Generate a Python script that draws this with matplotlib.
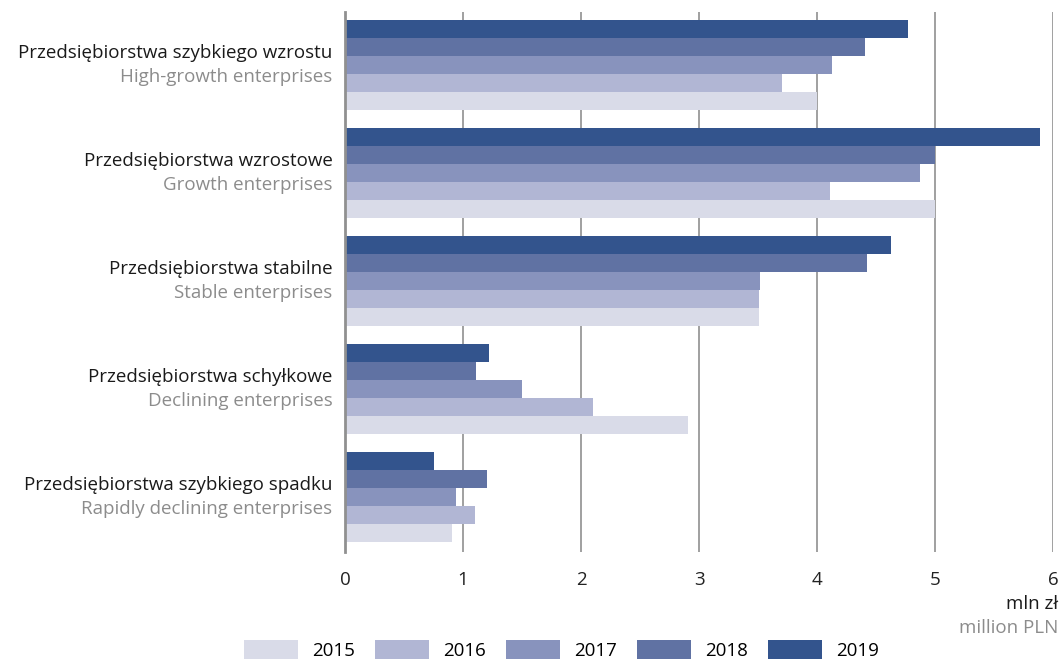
import numpy as np
import matplotlib.pyplot as plt
from matplotlib.patches import Patch

plt.rcParams['font.family'] = ['Open Sans', 'DejaVu Sans']

# dane (mln zł)
kategorie_pl = ['Przedsiębiorstwa szybkiego wzrostu', 'Przedsiębiorstwa wzrostowe',
                'Przedsiębiorstwa stabilne', 'Przedsiębiorstwa schyłkowe',
                'Przedsiębiorstwa szybkiego spadku']
kategorie_en = ['High-growth enterprises', 'Growth enterprises', 'Stable enterprises',
                'Declining enterprises', 'Rapidly declining enterprises']
lata = ['2015', '2016', '2017', '2018', '2019']
v2015 = [4.0, 5.0, 3.51, 2.91, 0.91]
v2016 = [3.70, 4.11, 3.51, 2.10, 1.10]
v2017 = [4.13, 4.87, 3.52, 1.50, 0.94]
v2018 = [4.41, 5.0, 4.42, 1.11, 1.20]
v2019 = [4.77, 5.89, 4.63, 1.22, 0.75]
wartosci = [v2015, v2016, v2017, v2018, v2019]
kolory = ['#d9dbe8', '#b1b6d4', '#8893bd', '#6072a3', '#33548d']

fs = 13.5

fig = plt.figure(figsize=(10.61, 6.61), dpi=100)
ax = fig.add_axes([0.3252, 0.1649, 0.6673, 0.8169])

y = np.arange(len(kategorie_pl))
h = 0.167
for i, (vals, kol) in enumerate(zip(wartosci, kolory)):
    # 2019 na górze, 2015 na dole
    off = (2 - i) * h
    ax.barh(y + off, vals, height=h, color=kol, zorder=3, linewidth=0)

ax.set_ylim(4.51, -0.49)
ax.set_xlim(0, 6)
ax.set_xticks(range(7))
ax.set_xticklabels([str(i) for i in range(7)], fontsize=fs, color='#222222')
ax.tick_params(axis='x', length=0, pad=14)
ax.set_yticks([])
ax.grid(axis='x', color='#a0a0a0', linewidth=1.4, zorder=0)
for s in ['top', 'right', 'bottom']:
    ax.spines[s].set_visible(False)
ax.spines['left'].set_color('#909090')
ax.spines['left'].set_linewidth(2)
ax.spines['left'].set_zorder(4)

for yi, pl, en in zip(y, kategorie_pl, kategorie_en):
    ax.annotate(pl, xy=(0, yi), xycoords=('axes fraction', 'data'), xytext=(-9, 8.5),
                textcoords='offset points', ha='right', va='center', fontsize=fs, color='#1a1a1a')
    ax.annotate(en, xy=(0, yi), xycoords=('axes fraction', 'data'), xytext=(-9, -9),
                textcoords='offset points', ha='right', va='center', fontsize=fs, color='#8c8c8c')

fig.text(0.9975, 0.086, 'mln zł', ha='right', va='center', fontsize=fs, color='#1a1a1a')
fig.text(0.9975, 0.050, 'million PLN', ha='right', va='center', fontsize=fs, color='#8c8c8c')

uchwyty = [Patch(facecolor=k, edgecolor='none') for k in kolory]
fig.legend(uchwyty, lata, loc='center', bbox_to_anchor=(0.529, 0.017), ncol=5, frameon=False,
           fontsize=fs, handlelength=2.9, handleheight=1.25, handletextpad=0.75,
           columnspacing=1.05, borderpad=0.2)

fig.savefig('out.png', dpi=100)
